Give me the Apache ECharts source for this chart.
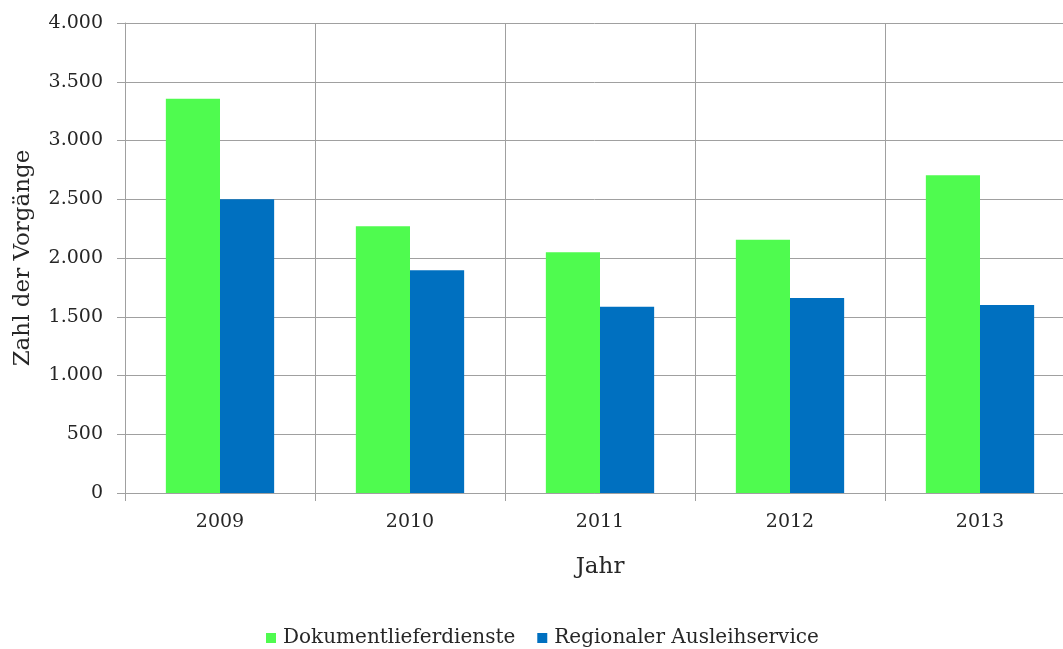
<!DOCTYPE html>
<html>
<head>
<meta charset="utf-8">
<script src="https://cdn.jsdelivr.net/npm/echarts@6/dist/echarts.min.js"></script>
<style>
html,body{margin:0;padding:0;background:#fff;}
#chart{width:1063px;height:649px;}
</style>
</head>
<body>
<div id="chart"></div>
<script>
const years = ['2009', '2010', '2011', '2012', '2013'];
const dokumentlieferdienste = [3355, 2270, 2050, 2155, 2705];
const regionalerAusleihservice = [2500, 1895, 1585, 1660, 1600];
const seriesNames = ['Dokumentlieferdienste', 'Regionaler Ausleihservice'];
const yTicks = [0, 500, 1000, 1500, 2000, 2500, 3000, 3500, 4000];

const FONT = 'DejaVu Serif';
const TXT = '#262626';
const GRID = '#a0a0a0';

function fmt(v) {
  return String(v).replace(/\B(?=(\d{3})+(?!\d))/g, '.');
}

const chart = echarts.init(document.getElementById('chart'), null, {renderer: 'canvas'});
chart.setOption({
  animation: false,
  textStyle: {fontFamily: FONT},
  grid: {left: 125, top: 23, right: -12, height: 470, containLabel: false, outerBoundsMode: 'none'},
  legend: {
    top: 623,
    left: 261,
    padding: 5,
    itemWidth: 10,
    itemHeight: 10,
    itemGap: 22,
    icon: 'rect',
    textStyle: {fontFamily: FONT, fontSize: 20, color: TXT, padding: [0, 0, 0, 2]},
    data: seriesNames
  },
  xAxis: {
    type: 'category',
    data: years,
    name: 'Jahr',
    nameLocation: 'middle',
    nameGap: 63,
    nameTextStyle: {fontFamily: FONT, fontSize: 23, color: TXT},
    axisLine: {lineStyle: {color: GRID, width: 1}},
    axisTick: {show: true, length: 8, lineStyle: {color: GRID}},
    axisLabel: {fontFamily: FONT, fontSize: 19, color: TXT, margin: 20},
    splitLine: {show: true, lineStyle: {color: GRID, width: 1}}
  },
  yAxis: {
    type: 'value',
    min: yTicks[0],
    max: yTicks[yTicks.length - 1],
    interval: 500,
    name: 'Zahl der Vorgänge',
    nameLocation: 'middle',
    nameGap: 90,
    nameRotate: 90,
    nameTextStyle: {fontFamily: FONT, fontSize: 23, color: TXT},
    axisLine: {show: true, lineStyle: {color: GRID, width: 1}},
    axisTick: {show: true, length: 8, lineStyle: {color: GRID}},
    axisLabel: {fontFamily: FONT, fontSize: 19, color: TXT, margin: 22, formatter: fmt},
    splitLine: {show: true, lineStyle: {color: GRID, width: 1}}
  },
  series: [
    {
      name: seriesNames[0],
      type: 'bar',
      data: dokumentlieferdienste,
      barGap: '0%',
      barCategoryGap: '43%',
      itemStyle: {color: '#4FFB4F'}
    },
    {
      name: seriesNames[1],
      type: 'bar',
      data: regionalerAusleihservice,
      itemStyle: {color: '#0070C0'}
    }
  ]
});
</script>
</body>
</html>
